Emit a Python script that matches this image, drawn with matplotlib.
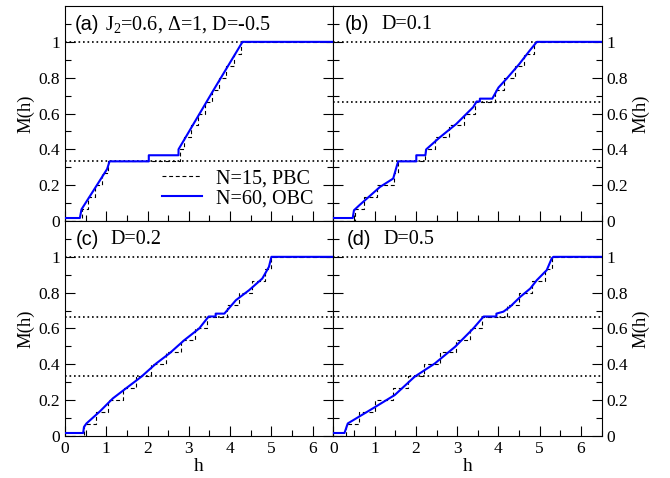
"""
Curvas de magnetizacao M(h) - quatro paineis (a)-(d).
N=15 PBC (tracejado) e N=60 OBC (azul).
"""

import matplotlib
matplotlib.use("Agg")
import matplotlib.pyplot as plt
import numpy as np
from matplotlib.ticker import FixedLocator, MultipleLocator

plt.rcParams["font.family"] = ["Liberation Serif", "DejaVu Serif"]
plt.rcParams["mathtext.fontset"] = "custom"
plt.rcParams["mathtext.rm"] = "Liberation Serif"
plt.rcParams["mathtext.it"] = "Liberation Serif:italic"
plt.rcParams["mathtext.default"] = "regular"

N_PBC = 15
H_MAX = 6.5

# campos onde M(N=15, PBC) sobe um degrau de 1/15 (k = 1..15)
pbc_a = [0.42, 0.55, 0.73, 0.90, 1.05, 2.78, 2.88, 3.05, 3.23, 3.40, 3.57, 3.74, 3.91, 4.09, 4.27]
pbc_b = [0.52, 0.74, 1.07, 1.47, 1.56, 2.22, 2.47, 2.81, 3.16, 3.42, 3.92, 4.14, 4.41, 4.63, 4.87]
pbc_c = [0.47, 0.74, 1.05, 1.40, 1.73, 2.08, 2.45, 2.80, 3.14, 3.44, 3.92, 4.22, 4.52, 4.84, 4.98]
pbc_d = [0.30, 0.62, 1.00, 1.45, 1.81, 2.20, 2.58, 2.97, 3.32, 3.60, 4.20, 4.49, 4.81, 5.12, 5.30]

# curva N=60 OBC (h, M)
obc_a_h = [0, 0.36, 0.40, 0.80, 1.02, 1.08, 2.03, 2.03, 2.75, 2.75, 3.57, 4.30, 6.5]
obc_a_m = [0.0167, 0.0167, 0.065, 0.21, 0.29, 0.333, 0.333, 0.367, 0.367, 0.40, 0.72, 1.0, 1.0]

obc_b_h = [0, 0.47, 0.50, 0.64, 1.13, 1.45, 1.57, 2.01, 2.01, 2.23, 2.25, 2.58, 2.98, 3.39,
           3.47, 3.55, 3.55, 3.85, 4.00, 4.20, 4.50, 4.77, 4.93, 6.5]
obc_b_m = [0.0167, 0.0167, 0.06, 0.09, 0.19, 0.237, 0.333, 0.333, 0.367, 0.367, 0.40, 0.467,
           0.542, 0.636, 0.667, 0.667, 0.683, 0.683, 0.745, 0.795, 0.875, 0.955, 1.0, 1.0]

obc_c_h = [0, 0.44, 0.46, 0.52, 0.84, 1.16, 1.53, 1.85, 2.21, 2.53, 2.89, 3.25, 3.48, 3.65,
           3.65, 3.86, 4.14, 4.46, 4.78, 4.94, 5.0, 6.5]
obc_c_m = [0.0167, 0.0167, 0.05, 0.07, 0.136, 0.21, 0.275, 0.331, 0.405, 0.461, 0.535, 0.60,
           0.667, 0.667, 0.683, 0.683, 0.758, 0.814, 0.879, 0.944, 1.0, 1.0]

obc_d_h = [0, 0.27, 0.35, 1.0, 1.49, 1.97, 2.46, 2.95, 3.39, 3.64, 3.95, 3.95, 4.12, 4.28,
           4.53, 4.77, 4.93, 5.17, 5.29, 5.33, 6.5]
obc_d_m = [0.0167, 0.0167, 0.07, 0.16, 0.229, 0.331, 0.405, 0.498, 0.60, 0.667, 0.667, 0.683,
           0.694, 0.721, 0.777, 0.823, 0.870, 0.926, 0.991, 1.0, 1.0]

# linhas pontilhadas (platos)
platos_a = [1 / 3, 1.0]
platos = [1 / 3, 2 / 3, 1.0]

PAINEIS = [
    ("(a)", "J$_2$=0.6, \u0394=1, D=-0.5", pbc_a, obc_a_h, obc_a_m, platos_a, (0.037, 0.149)),
    ("(b)", "D=0.1", pbc_b, obc_b_h, obc_b_m, platos, (0.043, 0.180)),
    ("(c)", "D=0.2", pbc_c, obc_c_h, obc_c_m, platos, (0.041, 0.168)),
    ("(d)", "D=0.5", pbc_d, obc_d_h, obc_d_m, platos, (0.049, 0.186)),
]

YTICKS = [0, 0.2, 0.4, 0.6, 0.8, 1.0]
YTICK_LBL = ["0", "0.2", "0.4", "0.6", "0.8", "1"]


def main() -> None:
    fig, axes = plt.subplots(2, 2, figsize=(6.7, 4.78), dpi=100)
    fig.subplots_adjust(left=0.097, right=0.898, top=0.9874, bottom=0.0879,
                        wspace=0, hspace=0)

    for i, (ax, (tag, texto, pbc, oh, om, pl, pos)) in enumerate(zip(axes.flat, PAINEIS)):
        col = i % 2
        row = i // 2

        for y in pl:
            ax.axhline(y, color="black", ls=(0, (1, 1.7)), lw=1.2, zorder=1)

        h_pbc = np.r_[0.0, pbc, H_MAX]
        m_pbc = np.r_[np.arange(N_PBC + 1) / N_PBC, 1.0]
        ax.step(h_pbc, m_pbc, where="post", color="black", ls=(0, (3.5, 2.5)),
                lw=0.8, zorder=2, label="N=15, PBC")
        ax.plot(oh, om, color="#0000ff", lw=1.5, zorder=3, label="N=60, OBC")

        ax.set_xlim(0, H_MAX)
        ax.set_ylim(0, 1.2)
        ax.xaxis.set_major_locator(MultipleLocator(1))
        ax.xaxis.set_minor_locator(MultipleLocator(0.5))
        ax.yaxis.set_major_locator(FixedLocator(YTICKS))
        ax.yaxis.set_minor_locator(FixedLocator([0.1, 0.3, 0.5, 0.7, 0.9, 1.1]))
        ax.set_yticklabels(YTICK_LBL)
        ax.set_xticks(range(7))
        ax.set_xticklabels([str(k) for k in range(7)])

        ax.tick_params(which="both", direction="in", top=False, bottom=True,
                       left=True, right=True, labelsize=12.5, width=0.8, color="black")
        ax.tick_params(which="major", length=7, pad=3.5)
        ax.tick_params(which="minor", length=4)
        ax.tick_params(labelleft=(col == 0), labelright=(col == 1),
                       labelbottom=(row == 1))
        for sp in ax.spines.values():
            sp.set_linewidth(0.8)

        if col == 1:
            ax.yaxis.set_label_position("right")
        ax.set_ylabel("M(h)", fontsize=13.5, labelpad=3)
        if row == 1:
            ax.set_xlabel("h", fontsize=14, labelpad=0.5)

        ax.text(pos[0], 0.912, tag, transform=ax.transAxes, ha="left", va="center",
                fontsize=14.5, family=["Liberation Sans", "DejaVu Sans"])
        ax.text(pos[1], 0.912, texto, transform=ax.transAxes, ha="left", va="center",
                fontsize=14.5)

        if i == 0:
            ax.legend(loc="center", bbox_to_anchor=(0.644, 0.15), frameon=False,
                      fontsize=14.5, handlelength=2.0, handletextpad=0.7,
                      labelspacing=0.05, borderpad=0, borderaxespad=0)

    fig.savefig("out.png", dpi=100)
    plt.close(fig)


if __name__ == "__main__":
    main()
